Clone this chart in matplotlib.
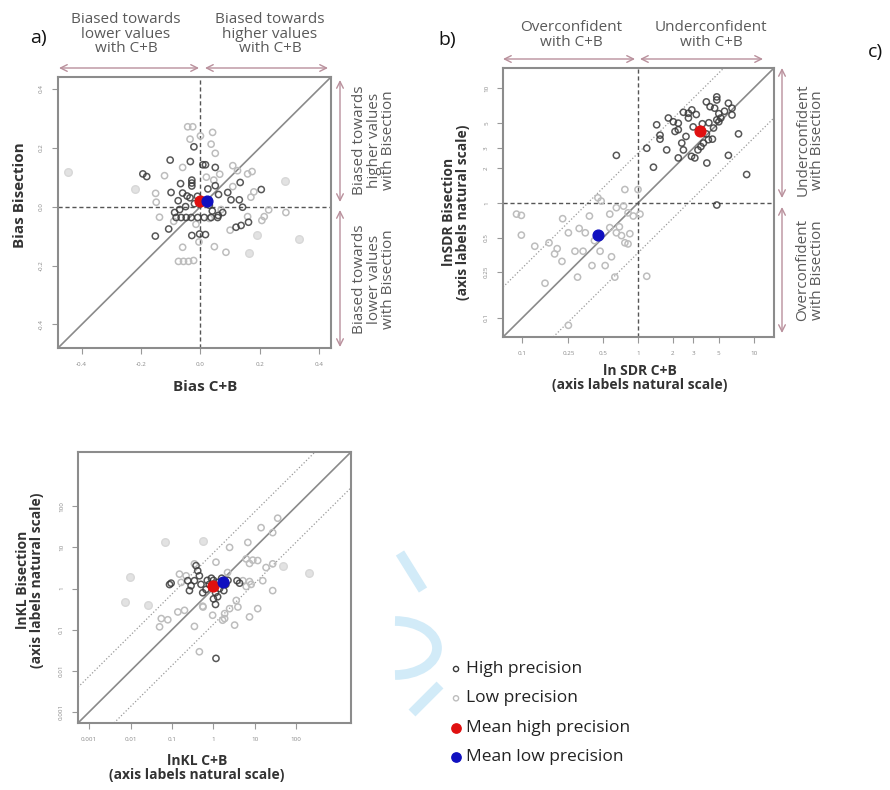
import numpy as np
import matplotlib
matplotlib.use("Agg")
import matplotlib.pyplot as plt
from matplotlib.patches import Arc

plt.rcParams['font.family'] = ['Open Sans', 'DejaVu Sans']

# ---- panel a: bias ----
a_high_x = [-0.194, -0.181, -0.102, -0.034, -0.022, 0.008, 0.017, 0.05, 0.05, -0.029, -0.029, -0.029,
            -0.067, -0.099, -0.06, -0.045, -0.035, 0.092, 0.134, 0.205, 0.061, 0.103, 0.131, 0.142,
            -0.082, -0.065, -0.048, -0.031, -0.009, 0.013, 0.036, 0.058, 0.075, -0.087, -0.07, -0.107,
            -0.152, -0.029, -0.003, 0.017, 0.12, 0.137, 0.162, -0.02, 0.03, -0.05, 0.04, -0.01, 0.06,
            -0.075, 0.025]
a_high_y = [0.111, 0.102, 0.158, 0.153, 0.203, 0.142, 0.142, 0.133, 0.071, 0.09, 0.08, 0.07,
            0.078, 0.048, 0.046, 0.036, 0.03, 0.048, 0.082, 0.058, 0.041, 0.023, 0.023, -0.002,
            -0.037, -0.037, -0.037, -0.037, -0.037, -0.037, -0.037, -0.037, -0.02, -0.02, -0.01, -0.076,
            -0.10, -0.098, -0.093, -0.095, -0.07, -0.064, -0.053, 0.01, 0.005, 0.0, -0.015, 0.035, -0.03,
            0.02, 0.06]
a_low_x = [-0.043, -0.026, -0.035, 0.041, 0.036, 0.05, -0.06, -0.121, 0.109, 0.125, 0.159, 0.174,
           0.109, 0.17, 0.23, 0.215, 0.207, -0.149, -0.138, 0.159, 0.086, 0.047, -0.06, -0.074,
           -0.057, -0.04, -0.023, -0.151, 0.288, 0.0, 0.02, -0.015, 0.07, 0.1, -0.09, 0.065, 0.18,
           -0.005, 0.03, 0.045]
a_low_y = [0.271, 0.271, 0.229, 0.252, 0.212, 0.181, 0.133, 0.105, 0.139, 0.122, 0.111, 0.119,
           0.068, 0.032, -0.011, -0.034, -0.047, 0.015, -0.036, -0.034, -0.155, -0.136, -0.138, -0.186,
           -0.186, -0.186, -0.183, 0.045, -0.02, 0.24, 0.10, -0.06, -0.01, -0.08, -0.05, 0.11, 0.05,
           -0.12, -0.04, 0.09]
a_low_solid_x = [-0.446, -0.222, 0.285, 0.19, 0.333, 0.162]
a_low_solid_y = [0.116, 0.06, 0.086, -0.098, -0.11, -0.157]
a_mean_high = (-0.003, 0.02)
a_mean_low = (0.021, 0.02)

# ---- panel b: SDR ----
b_high_x = [0.65, 1.45, 1.55, 1.55, 1.83, 2.02, 2.23, 1.19, 1.36, 1.77, 2.09, 2.23, 2.47, 2.73, 2.92,
            2.73, 3.19, 2.39, 2.47, 2.9, 3.1, 3.3, 3.5, 2.23, 3.68, 4.06, 4.4, 3.94, 3.9, 4.2, 4.6,
            4.8, 4.8, 5.0, 5.2, 5.0, 4.8, 6.05, 6.5, 6.5, 4.5, 7.4, 6.05, 8.7, 4.8, 3.0, 3.6, 4.1,
            2.6, 3.9, 5.6]
b_high_y = [2.6, 4.8, 3.9, 3.6, 5.5, 5.1, 4.96, 3.0, 2.05, 2.9, 4.2, 4.35, 6.17, 6.05, 6.47,
            5.5, 5.9, 3.33, 2.9, 2.55, 2.47, 2.9, 3.1, 2.47, 3.33, 3.56, 3.6, 2.23, 7.6, 6.9, 6.7,
            8.4, 7.9, 6.0, 5.5, 5.1, 5.3, 7.4, 6.7, 5.85, 4.5, 4.0, 2.6, 1.77, 0.96, 4.6, 4.9, 5.0,
            3.8, 4.0, 6.3]
b_low_x = [0.098, 0.098, 0.128, 0.223, 0.25, 0.17, 0.19, 0.2, 0.22, 0.285, 0.335, 0.157, 0.30, 0.40,
           0.52, 0.47, 0.38, 0.35, 0.57, 0.65, 0.72, 0.77, 0.82, 0.85, 0.57, 0.65, 0.75, 0.82, 0.91,
           1.04, 0.77, 1.0, 0.59, 1.19, 0.63, 0.25, 0.45, 0.48, 0.089, 0.31, 0.42, 0.69]
b_low_y = [0.78, 0.525, 0.42, 0.73, 0.55, 0.45, 0.36, 0.4, 0.31, 0.38, 0.38, 0.2, 0.226, 0.285,
           0.285, 0.38, 0.77, 0.55, 0.61, 0.55, 0.52, 0.45, 0.44, 0.54, 0.8, 0.91, 0.94, 0.82, 0.77,
           0.8, 1.31, 1.31, 0.34, 0.23, 0.226, 0.086, 1.11, 1.04, 0.8, 0.6, 0.47, 0.62]
b_mean_high = (3.44, 4.26)
b_mean_low = (0.45, 0.53)

# ---- panel c: KL ----
c_high_x = [0.087, 0.263, 0.288, 0.24, 0.347, 0.417, 0.38, 0.457, 0.5, 0.66, 0.55, 1.12, 1.15, 3.7,
            0.095, 4.27, 0.79, 1.0, 1.26, 1.41, 1.12, 0.89, 1.58, 2.0, 1.26, 1.0, 1.78, 0.71, 2.24]
c_high_y = [1.25, 0.89, 1.17, 1.55, 1.55, 2.7, 3.6, 2.04, 1.26, 0.95, 0.79, 0.41, 0.02, 1.55,
            1.35, 1.35, 1.26, 1.58, 1.41, 1.0, 0.79, 1.78, 1.78, 1.26, 0.63, 0.56, 0.89, 1.58, 1.58]
c_low_x = [0.055, 0.079, 0.05, 0.138, 0.2, 0.347, 0.55, 0.457, 1.15, 2.45, 6.76, 14.1, 35.5, 26.9,
           18.6, 11.7, 8.9, 6.17, 7.41, 26.9, 15.5, 7.41, 6.17, 8.13, 5.13, 3.55, 3.89, 2.45, 1.86,
           1.86, 3.24, 7.41, 11.7, 0.56, 0.955, 1.66, 0.219, 0.166, 0.347, 2.19, 26.9, 0.151]
c_low_y = [0.186, 0.174, 0.117, 0.269, 0.295, 0.12, 0.372, 0.029, 4.37, 10.0, 13.2, 30.2, 51.3, 3.98,
           3.24, 4.79, 4.9, 5.25, 4.07, 0.89, 1.55, 1.48, 1.12, 1.26, 1.55, 0.513, 0.355, 0.324,
           0.245, 0.186, 0.129, 0.204, 0.324, 0.355, 0.224, 0.17, 2.04, 1.41, 3.98, 2.45, 22.9, 2.24]
c_low_solid_x = [0.066, 0.55, 0.0095, 0.0072, 0.026, 204, 46.8]
c_low_solid_y = [13.8, 14.5, 1.95, 0.47, 0.39, 2.45, 3.63]
c_mean_high = (0.95, 1.18)
c_mean_low = (1.67, 1.42)

a_ticks = [-0.4, -0.2, 0.0, 0.2, 0.4]
a_ticklabels = ['-0.4', '-0.2', '0.0', '0.2', '0.4']
b_ticks = [0.1, 0.25, 0.5, 1, 2, 3, 5, 10]
b_ticklabels = ['0.1', '0.25', '0.5', '1', '2', '3', '5', '10']
c_ticks = [0.001, 0.01, 0.1, 1, 10, 100]
c_ticklabels = ['0.001', '0.01', '0.1', '1', '10', '100']

W, H = 890, 790
fig = plt.figure(figsize=(8.9, 7.9), dpi=100)

# overlay in pixel coordinates for annotations
ov = fig.add_axes([0, 0, 1, 1], zorder=-1)
ov.set_xlim(0, W)
ov.set_ylim(H, 0)
ov.axis('off')


def px_axes(x0, y0, x1, y1):
    return fig.add_axes([x0 / W, 1 - y1 / H, (x1 - x0) / W, (y1 - y0) / H])


dark = '#3a3a3a'
light = '#bdbdbd'
arrow_c = '#b9909c'
txt_c = '#5a5a5a'


def draw_points(ax, hx, hy, lx, ly, sx, sy, mh, ml):
    ax.scatter(sx, sy, s=30, facecolor='#e2e2e2', edgecolor='#d8d8d8', lw=1.0, zorder=2)
    ax.scatter(lx, ly, s=20, facecolor='none', edgecolor=light, lw=1.1, zorder=3)
    ax.scatter(hx, hy, s=20, facecolor='none', edgecolor=dark, lw=1.1, alpha=0.85, zorder=4)
    ax.scatter([mh[0]], [mh[1]], s=60, color='#e01010', zorder=6)
    ax.scatter([ml[0]], [ml[1]], s=60, color='#1010c0', zorder=6)


def style(ax, ticks, labels):
    for s in ax.spines.values():
        s.set_color('#8c8c8c')
        s.set_linewidth(1.5)
    ax.minorticks_off()
    ax.set_xticks(ticks)
    ax.set_xticklabels(labels)
    ax.set_yticks(ticks)
    ax.set_yticklabels(labels, rotation=90, va='center')
    ax.tick_params(which='both', length=4, width=0.8, color='#999999',
                   labelsize=4.5, labelcolor='#8a8a8a', pad=6)


# panel a
ax_a = px_axes(58, 77, 331, 348)
ax_a.set_xlim(-0.48, 0.44)
ax_a.set_ylim(-0.48, 0.44)
ax_a.axline((0, 0), (0.1, 0.1), color='#8a8a8a', lw=1.2, zorder=1)
ax_a.axhline(0, color='#555555', lw=1.0, ls=(0, (3, 2)), zorder=1)
ax_a.axvline(0, color='#555555', lw=1.0, ls=(0, (3, 2)), zorder=1)
draw_points(ax_a, a_high_x, a_high_y, a_low_x, a_low_y, a_low_solid_x, a_low_solid_y,
            a_mean_high, a_mean_low)
style(ax_a, a_ticks, a_ticklabels)

# panel b
e = np.e
ax_b = px_axes(503, 68, 774, 337)
ax_b.set_xscale('log')
ax_b.set_yscale('log')
ax_b.set_xlim(0.068, 15)
ax_b.set_ylim(0.068, 15)
ax_b.axline((1, 1), (10, 10), color='#8a8a8a', lw=1.2, zorder=1)
ax_b.axline((1, e), (10, 10 * e), color='#9a9a9a', lw=0.9, ls=':', zorder=1)
ax_b.axline((1, 1 / e), (10, 10 / e), color='#9a9a9a', lw=0.9, ls=':', zorder=1)
ax_b.axhline(1, color='#555555', lw=1.0, ls=(0, (3, 2)), zorder=1)
ax_b.axvline(1, color='#555555', lw=1.0, ls=(0, (3, 2)), zorder=1)
draw_points(ax_b, b_high_x, b_high_y, b_low_x, b_low_y, [], [], b_mean_high, b_mean_low)
style(ax_b, b_ticks, b_ticklabels)

# panel c
ax_c = px_axes(78, 452, 351, 723)
ax_c.set_xscale('log')
ax_c.set_yscale('log')
ax_c.set_xlim(10 ** -3.27, 10 ** 3.32)
ax_c.set_ylim(10 ** -3.27, 10 ** 3.32)
ax_c.axline((1, 1), (10, 10), color='#8a8a8a', lw=1.2, zorder=1)
ax_c.axline((1, e ** 2), (10, 10 * e ** 2), color='#9a9a9a', lw=0.9, ls=':', zorder=1)
ax_c.axline((1, e ** -2), (10, 10 * e ** -2), color='#9a9a9a', lw=0.9, ls=':', zorder=1)
draw_points(ax_c, c_high_x, c_high_y, c_low_x, c_low_y, c_low_solid_x, c_low_solid_y,
            c_mean_high, c_mean_low)
style(ax_c, c_ticks, c_ticklabels)


def harrow(x0, x1, y):
    ov.annotate('', xy=(x0, y), xytext=(x1, y),
                arrowprops=dict(arrowstyle='<->', color=arrow_c, lw=1.0,
                                shrinkA=0, shrinkB=0, mutation_scale=12))


def varrow(x, y0, y1):
    ov.annotate('', xy=(x, y0), xytext=(x, y1),
                arrowprops=dict(arrowstyle='<->', color=arrow_c, lw=1.0,
                                shrinkA=0, shrinkB=0, mutation_scale=12))


note = dict(color=txt_c, fontsize=11, ha='center', va='center', linespacing=0.95)

# panel a annotations
ov.text(126, 34, 'Biased towards\nlower values\nwith C+B', **note)
ov.text(270, 34, 'Biased towards\nhigher values\nwith C+B', **note)
harrow(59, 199, 68)
harrow(205, 328, 68)
ov.text(374, 140, 'Biased towards\nhigher values\nwith Bisection', rotation=90, **note)
ov.text(374, 279, 'Biased towards\nlower values\nwith Bisection', rotation=90, **note)
varrow(340, 80, 202)
varrow(340, 210, 347)

# panel b annotations
ov.text(571, 35, 'Overconfident\nwith C+B', **note)
ov.text(711, 35, 'Underconfident\nwith C+B', **note)
harrow(503, 635, 59)
harrow(640, 763, 59)
ov.text(810, 140, 'Underconfident\nwith Bisection', rotation=90, **note)
ov.text(810, 270, 'Overconfident\nwith Bisection', rotation=90, **note)
varrow(782, 68, 198)
varrow(782, 207, 333)

# panel letters
for lx, ly, t in [(38, 38, 'a)'), (447, 40, 'b)'), (875, 52, 'c)')]:
    ov.text(lx, ly, t, fontsize=14, color='#111111', ha='center', va='center')

# axis labels
lab = dict(color='#333333', fontweight='bold', ha='center', va='center')
ov.text(20, 195, 'Bias Bisection', rotation=90, fontsize=11, **lab)
ov.text(205, 387, 'Bias C+B', fontsize=11, **lab)
ov.text(456, 212, 'lnSDR Bisection\n(axis labels natural scale)', rotation=90,
        fontsize=10, linespacing=1.05, **lab)
ov.text(640, 378, 'ln SDR C+B\n(axis labels natural scale)', fontsize=10, linespacing=1.05, **lab)
ov.text(30, 580, 'lnKL Bisection\n(axis labels natural scale)', rotation=90,
        fontsize=10, linespacing=1.05, **lab)
ov.text(197, 768, 'lnKL C+B\n(axis labels natural scale)', fontsize=10, linespacing=1.05, **lab)

# legend
leg_items = [('High precision', 'none', dark, 14),
             ('Low precision', 'none', light, 14),
             ('Mean high precision', '#e01010', '#e01010', 45),
             ('Mean low precision', '#1010c0', '#1010c0', 45)]
for i, (name, fc, ec, sz) in enumerate(leg_items):
    y = 669 + i * 29.3
    ov.scatter([456], [y], s=sz, facecolor=fc, edgecolor=ec, lw=1.0)
    ov.text(466, y, name, fontsize=12.5, color='#222222', ha='left', va='center')

# faint watermark strokes
wm = '#d2ebf8'
ov.plot([400, 423], [553, 590], color=wm, lw=7, solid_capstyle='butt')
ov.add_patch(Arc((395, 648), 84, 54, theta1=-90, theta2=90, color=wm, lw=7))
ov.plot([440, 412], [685, 713], color=wm, lw=7, solid_capstyle='butt')

fig.savefig('out.png', dpi=100)
